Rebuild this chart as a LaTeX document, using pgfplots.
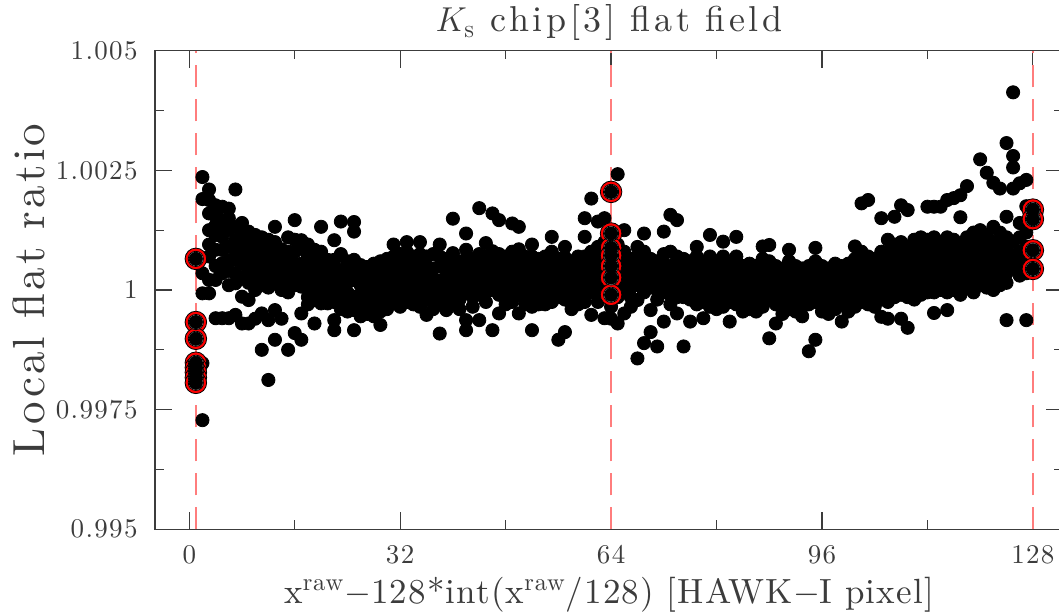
\documentclass[border=0pt]{standalone}
\usepackage{fontspec}
\usepackage{pgfplots}
\usepackage{pgfplotstable}
\pgfplotsset{compat=1.18}

\newfontfamily\fTick{lmroman10-regular.otf}[LetterSpace=5]
\newfontfamily\fXlab{lmroman10-regular.otf}[LetterSpace=3.3]
\newfontfamily\fYlab{lmroman10-regular.otf}[LetterSpace=7]
\newfontfamily\fTitle{lmroman10-regular.otf}[LetterSpace=10]

% band points: x, then up to 8 values per column
\pgfplotstableread{
x a b c d e f g h
2 1.00236 1.00190 1.00035 0.99993 0.99847 0.99728 nan nan
3 1.00210 1.00188 1.00160 1.00125 1.00095 1.00070 1.00021 0.99993
4 1.00177 1.00154 1.00135 1.00115 1.00084 1.00050 1.00021 0.99941
5 1.00174 1.00146 1.00128 1.00111 1.00084 1.00056 1.00035 0.99941
6 1.00170 1.00150 1.00125 1.00091 1.00063 1.00040 1.00010 0.99941
7 1.00210 1.00132 1.00104 1.00084 1.00063 1.00035 1.00014 0.99948
8 1.00140 1.00120 1.00095 1.00075 1.00055 1.00025 0.99986 0.99930
9 1.00122 1.00100 1.00080 1.00063 1.00042 1.00015 0.99979 0.99930
10 1.00115 1.00095 1.00078 1.00060 1.00045 1.00025 1.00000 0.99940
11 1.00110 1.00090 1.00072 1.00055 1.00035 1.00010 0.99951 0.99875
12 1.00105 1.00087 1.00068 1.00052 1.00030 1.00005 0.99937 0.99812
13 1.00132 1.00100 1.00075 1.00050 1.00032 1.00015 0.99958 0.99896
14 nan 1.00085 1.00065 1.00040 1.00020 1.00000 0.99940 nan
15 1.00110 1.00080 1.00060 1.00035 1.00018 0.99995 0.99875 nan
16 1.00146 1.00105 1.00080 1.00055 1.00035 1.00010 0.99910 nan
17 1.00104 1.00086 1.00055 1.00042 1.00022 1.00007 0.99951 0.99896
18 1.00095 1.00070 1.00052 1.00034 1.00010 0.99985 0.99970 nan
19 1.00084 1.00065 1.00042 1.00020 1.00002 0.99979 0.99930 nan
20 1.00132 1.00080 1.00050 1.00035 1.00015 0.99990 0.99972 nan
21 nan 1.00063 1.00045 1.00028 1.00005 0.99985 0.99972 nan
22 1.00104 1.00063 1.00040 1.00020 1.00000 0.99975 0.99937 0.99916
23 1.00143 1.00075 1.00042 1.00020 0.99997 0.99980 0.99960 nan
24 nan 1.00060 1.00038 1.00016 0.99995 0.99972 0.99955 nan
25 1.00142 1.00122 1.00063 1.00049 1.00021 0.99986 0.99958 0.99916
26 nan 1.00052 1.00030 1.00010 0.99990 0.99970 0.99945 nan
27 nan 1.00048 1.00028 1.00008 0.99988 0.99968 0.99950 nan
28 nan 1.00055 1.00028 1.00005 0.99985 0.99965 0.99945 nan
29 nan 1.00060 1.00035 1.00012 0.99992 0.99972 0.99955 0.99927
30 nan 1.00065 1.00045 1.00020 1.00000 0.99980 0.99960 nan
31 1.00095 1.00070 1.00045 1.00025 1.00005 0.99985 0.99972 nan
32 nan 1.00075 1.00050 1.00030 1.00010 0.99990 0.99965 nan
33 1.00100 1.00080 1.00060 1.00035 1.00015 0.99995 0.99975 nan
34 nan 1.00070 1.00050 1.00030 1.00010 0.99990 0.99970 nan
35 1.00100 1.00075 1.00055 1.00035 1.00015 0.99990 0.99965 nan
36 nan 1.00070 1.00050 1.00025 1.00005 0.99980 0.99948 nan
37 nan 1.00075 1.00045 1.00025 1.00000 0.99975 0.99960 nan
38 1.00095 1.00070 1.00050 1.00020 0.99995 0.99970 0.99909 nan
39 nan 1.00065 1.00040 1.00020 1.00005 0.99980 0.99958 nan
40 1.00149 1.00077 1.00055 1.00030 1.00010 0.99990 0.99970 nan
41 nan 1.00060 1.00040 1.00020 1.00000 0.99980 0.99960 nan
42 1.00118 1.00084 1.00060 1.00035 1.00015 0.99995 0.99937 0.99916
43 nan 1.00065 1.00045 1.00025 1.00005 0.99985 0.99965 nan
44 1.00171 1.00075 1.00050 1.00030 1.00010 0.99990 0.99937 nan
45 1.00098 1.00070 1.00055 1.00035 1.00015 0.99995 0.99975 nan
46 1.00160 1.00081 1.00060 1.00040 1.00020 1.00000 0.99916 nan
47 1.00146 1.00075 1.00050 1.00030 1.00010 0.99990 0.99951 nan
48 nan 1.00070 1.00050 1.00030 1.00010 0.99985 0.99970 nan
49 1.00139 1.00080 1.00060 1.00040 1.00020 1.00000 0.99975 nan
50 1.00132 1.00085 1.00060 1.00035 1.00015 0.99990 0.99951 nan
51 nan 1.00070 1.00050 1.00030 1.00010 0.99990 0.99970 nan
52 1.00095 1.00070 1.00045 1.00025 1.00005 0.99985 0.99965 0.99916
53 nan 1.00065 1.00045 1.00025 1.00005 0.99985 0.99970 nan
54 nan 1.00070 1.00050 1.00030 1.00010 0.99990 0.99970 nan
55 1.00111 1.00080 1.00055 1.00035 1.00015 0.99995 0.99975 nan
56 nan 1.00065 1.00045 1.00025 1.00005 0.99985 0.99896 nan
57 1.00090 1.00068 1.00045 1.00025 1.00005 0.99980 0.99912 nan
58 nan 1.00060 1.00040 1.00020 1.00000 0.99980 0.99960 nan
59 nan 1.00070 1.00050 1.00030 1.00010 0.99990 0.99970 nan
60 1.00150 1.00111 1.00070 1.00045 1.00020 1.00000 0.99975 nan
61 1.00191 1.00080 1.00055 1.00035 1.00015 0.99995 0.99948 nan
62 1.00143 1.00090 1.00065 1.00040 1.00020 0.99995 0.99975 nan
63 1.00150 1.00100 1.00070 1.00045 1.00020 0.99995 0.99941 nan
64 0.99965 0.99940 nan nan nan nan nan nan
65 1.00242 1.00095 1.00070 1.00050 1.00030 1.00010 0.99985 0.99930
66 1.00125 1.00080 1.00055 1.00035 1.00015 0.99995 0.99951 nan
67 nan 1.00065 1.00045 1.00025 1.00005 0.99985 0.99965 nan
68 1.00090 1.00070 1.00050 1.00030 1.00010 0.99979 0.99857 nan
69 1.00118 1.00080 1.00055 1.00035 1.00015 0.99995 0.99889 nan
70 nan 1.00065 1.00045 1.00025 1.00005 0.99958 0.99912 nan
71 nan 1.00060 1.00040 1.00020 1.00000 0.99980 0.99882 nan
72 1.00122 1.00075 1.00055 1.00035 1.00015 0.99995 0.99934 nan
73 1.00157 1.00080 1.00050 1.00030 1.00010 0.99990 0.99970 nan
74 1.00146 1.00070 1.00050 1.00030 1.00010 0.99985 0.99951 nan
75 nan 1.00065 1.00045 1.00025 1.00005 0.99985 0.99882 nan
76 nan 1.00060 1.00040 1.00020 1.00000 0.99980 0.99934 nan
77 1.00090 1.00070 1.00050 1.00030 1.00010 0.99990 0.99970 nan
78 nan 1.00055 1.00035 1.00015 0.99995 0.99975 0.99941 nan
79 1.00115 1.00070 1.00050 1.00030 1.00010 0.99990 0.99965 nan
80 nan 1.00060 1.00040 1.00020 1.00000 0.99980 0.99960 nan
81 1.00101 1.00070 1.00045 1.00025 1.00005 0.99985 0.99965 nan
82 nan 1.00055 1.00035 1.00015 0.99995 0.99975 0.99934 nan
83 1.00111 1.00070 1.00050 1.00030 1.00010 0.99990 0.99970 nan
84 nan 1.00050 1.00030 1.00010 0.99990 0.99970 0.99955 nan
85 nan 1.00055 1.00035 1.00015 0.99995 0.99975 0.99960 nan
86 nan 1.00050 1.00030 1.00010 0.99990 0.99970 0.99955 nan
87 1.00091 1.00065 1.00045 1.00025 1.00005 0.99985 0.99965 nan
88 1.00094 1.00060 1.00040 1.00020 1.00000 0.99980 0.99899 nan
89 nan 1.00050 1.00030 1.00010 0.99990 0.99970 0.99930 nan
90 nan 1.00045 1.00025 1.00005 0.99985 0.99965 0.99950 nan
91 1.00084 1.00060 1.00040 1.00020 1.00000 0.99980 0.99960 nan
92 nan 1.00050 1.00030 1.00010 0.99990 0.99970 0.99955 nan
93 nan 1.00045 1.00025 1.00005 0.99985 0.99965 0.99945 nan
94 nan 1.00050 1.00030 1.00010 0.99990 0.99970 0.99872 nan
95 1.00088 1.00060 1.00035 1.00015 0.99995 0.99975 0.99896 nan
96 nan 1.00050 1.00030 1.00010 0.99990 0.99970 0.99955 nan
97 nan 1.00045 1.00025 1.00005 0.99985 0.99965 0.99950 nan
98 nan 1.00055 1.00035 1.00015 0.99995 0.99975 0.99960 nan
99 nan 1.00050 1.00030 1.00010 0.99990 0.99970 0.99934 nan
100 nan 1.00055 1.00035 1.00015 0.99995 0.99975 0.99955 nan
101 1.00091 1.00065 1.00045 1.00025 1.00005 0.99985 0.99965 nan
102 1.00181 1.00080 1.00055 1.00035 1.00015 0.99995 0.99975 nan
103 1.00188 1.00070 1.00050 1.00030 1.00010 0.99990 0.99970 nan
104 nan 1.00065 1.00045 1.00025 1.00005 0.99985 0.99965 nan
105 1.00150 1.00080 1.00060 1.00040 1.00020 1.00000 0.99980 0.99944
106 1.00105 1.00080 1.00060 1.00040 1.00020 1.00000 0.99975 0.99940
107 1.00153 1.00095 1.00070 1.00050 1.00030 1.00010 0.99985 nan
108 1.00177 1.00100 1.00075 1.00050 1.00030 1.00010 0.99990 0.99940
109 1.00167 1.00090 1.00065 1.00045 1.00025 1.00005 0.99985 0.99921
110 1.00105 1.00085 1.00065 1.00045 1.00025 1.00005 0.99980 nan
111 1.00110 1.00090 1.00070 1.00050 1.00030 1.00010 0.99990 nan
112 1.00174 1.00105 1.00080 1.00060 1.00040 1.00020 0.99995 nan
113 1.00174 1.00110 1.00085 1.00060 1.00035 1.00015 0.99995 0.99952
114 1.00174 1.00100 1.00080 1.00060 1.00040 1.00020 1.00000 nan
115 1.00188 1.00110 1.00085 1.00065 1.00040 1.00020 0.99995 0.99958
116 1.00192 1.00105 1.00080 1.00060 1.00040 1.00020 1.00000 nan
117 1.00198 1.00152 1.00095 1.00070 1.00050 1.00030 1.00010 0.99990
118 1.00217 1.00110 1.00085 1.00065 1.00045 1.00025 1.00005 nan
119 1.00120 1.00095 1.00075 1.00055 1.00035 1.00015 0.99995 nan
120 1.00273 1.00125 1.00100 1.00075 1.00055 1.00035 1.00010 nan
121 1.00245 1.00115 1.00090 1.00070 1.00050 1.00030 1.00005 nan
122 1.00224 1.00132 1.00100 1.00075 1.00050 1.00025 1.00000 nan
123 1.00212 1.00120 1.00095 1.00070 1.00050 1.00030 1.00010 nan
124 1.00307 1.00153 1.00110 1.00085 1.00060 1.00035 1.00015 0.99937
125 1.00413 1.00280 1.00256 1.00212 1.00100 1.00070 1.00045 nan
126 1.00223 1.00140 1.00110 1.00080 1.00055 1.00030 nan nan
127 1.00230 1.00175 1.00120 1.00090 1.00060 1.00035 0.99937 nan
}\band

% flagged (circled) points
\pgfplotstableread{
x y
1 1.00065
1 0.99933
1 0.99898
1 0.99848
1 0.99838
1 0.99828
1 0.99817
1 0.99806
64 1.00205
64 1.00118
64 1.00088
64 1.00072
64 1.00050
64 1.00026
64 0.99990
128 1.00168
128 1.00148
128 1.00083
128 1.00044
}\flag

\definecolor{axisgray}{RGB}{60,60,60}
\definecolor{dashred}{RGB}{255,125,125}
\definecolor{ringred}{RGB}{255,0,0}

\begin{document}
\begin{tikzpicture}
\begin{axis}[
  scale only axis,
  width=454.1pt, height=239.3pt,
  xmin=-5.2, xmax=132.6,
  ymin=0.995, ymax=1.005,
  xtick={0,32,64,96,128},
  xticklabels={0,32,64,96,128},
  minor x tick num=1,
  ytick={0.995,0.9975,1,1.0025,1.005},
  yticklabels={0.995,0.9975,1,1.0025,1.005},
  minor y tick num=1,
  /pgf/number format/assume math mode=true,
  tick align=inside,
  major tick length=8.5pt,
  minor tick length=4.4pt,
  axis line style={axisgray, line width=0.65pt},
  every tick/.style={axisgray, line width=0.6pt},
  tick label style={font=\fTick\fontsize{13.5}{15}\selectfont, text=axisgray},
  yticklabel style={anchor=east, inner sep=0pt, xshift=-8.5pt},
  xticklabel style={anchor=north, inner sep=0pt, yshift=-8pt},
  every axis title/.style={at={(axis description cs:0.5,1)}, anchor=base, yshift=9.35pt,
     font=\fTitle\fontsize{18}{20}\selectfont, text=axisgray},
  every axis x label/.style={at={(axis description cs:0.5,0)}, anchor=base, yshift=-36.9pt,
     font=\fXlab\fontsize{17.5}{20}\selectfont, text=axisgray},
  every axis y label/.style={at={(axis description cs:-0.1385,0.5)}, anchor=center, rotate=90,
     font=\fYlab\fontsize{22.5}{25}\selectfont, text=axisgray},
  xlabel={x\textsuperscript{raw}$-$128*int(x\textsuperscript{raw}/128) [HAWK$-$I pixel]},
  ylabel={Local flat ratio},
  title={$K_{\mathrm{s}}$ chip[3] flat field},
  clip=true,
]
% dashed reference lines
\addplot[dashred, line width=0.8pt, dash pattern=on 11pt off 6pt] coordinates {(1,0.995) (1,1.005)};
\addplot[dashred, line width=0.8pt, dash pattern=on 11pt off 6pt] coordinates {(64,0.995) (64,1.005)};
\addplot[dashred, line width=0.8pt, dash pattern=on 11pt off 6pt] coordinates {(128,0.995) (128,1.005)};
% all points
\pgfplotsinvokeforeach{a,b,c,d,e,f,g,h}{
  \addplot[only marks, mark=*, mark size=3.3pt, mark options={draw=none, fill=black}] table[x=x, y=#1] {\band};
}
% flagged points: red ring, white gap, black dot
\addplot[only marks, mark=*, mark size=5.4pt, mark options={draw=none, fill=ringred}] table[x=x, y=y] {\flag};
\addplot[only marks, mark=*, mark size=3.8pt, mark options={draw=none, fill=white}] table[x=x, y=y] {\flag};
\addplot[only marks, mark=*, mark size=3.3pt, mark options={draw=none, fill=black}] table[x=x, y=y] {\flag};
\coordinate (sw) at (rel axis cs:0,0);
\coordinate (ne) at (rel axis cs:1,1);
\end{axis}
\pgfresetboundingbox
\path ([shift={(-77.5pt,-42.35pt)}]sw) rectangle ([shift={(-2.1pt,25.35pt)}]ne);
\end{tikzpicture}
\end{document}
